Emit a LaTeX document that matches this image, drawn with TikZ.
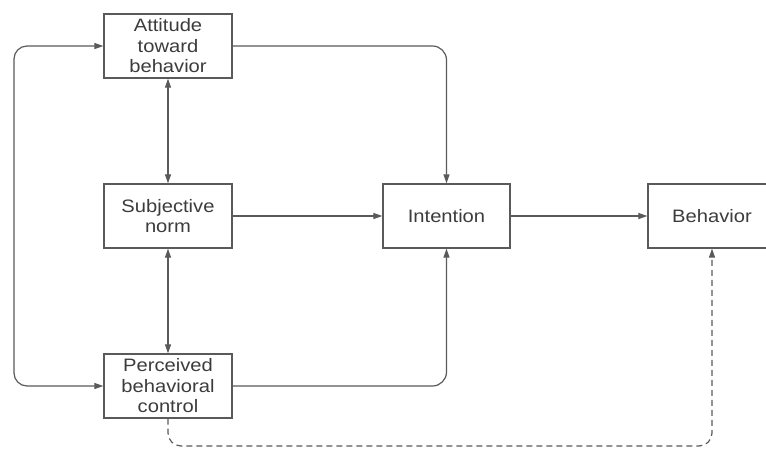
\documentclass[tikz,border=0pt]{standalone}
\usepackage{fontspec}
\setmainfont{Liberation Sans}[FakeStretch=1.12]
\usetikzlibrary{arrows.meta}
\definecolor{linegray}{HTML}{5A5A5A}
\definecolor{textgray}{HTML}{3C3C3C}
\begin{document}
\begin{tikzpicture}[x=1pt,y=-1pt,
  box/.style={draw=linegray, line width=1.3pt, fill=white, text=textgray,
    minimum width=128pt, minimum height=64pt, align=center, inner sep=0pt,
    font=\fontsize{18}{20.5}\selectfont},
  link/.style={draw=linegray, line width=1.2pt,
    -{Triangle[length=9pt,width=6pt]}},
  both/.style={link, {Triangle[length=9pt,width=6pt]}-{Triangle[length=9pt,width=6pt]}},
  dashedlink/.style={link, dash pattern=on 6pt off 4pt}]
\useasboundingbox (0,0) rectangle (766,448);
\clip (0,0) rectangle (766,448);
\fill[white] (0,0) rectangle (766,448);

% boxes
\node[box] (att)  at (168,46)    {Attitude\\toward\\behavior};
\node[box] (sub)  at (168,216)   {Subjective\\norm};
\node[box] (perc) at (168,386)   {Perceived\\behavioral\\control};
\node[box, minimum width=127pt] (int) at (446.5,216) {Intention};
\node[box] (beh)  at (712,216)   {Behavior};

% helper points for the routed connectors
\coordinate (lft) at (14,216);
\coordinate (bot) at (440,446);

% correlations between the antecedents
\draw[both] (att.south) -- (sub.north);
\draw[both] (sub.south) -- (perc.north);
\draw[both, rounded corners=13pt] (att.west) -| (lft) |- (perc.west);

% paths to intention and behavior
\draw[link] (sub.east) -- (int.west);
\draw[link, rounded corners=14pt] (att.east) -| (int.north);
\draw[link, rounded corners=14pt] (perc.east) -| (int.south);
\draw[link] (int.east) -- (beh.west);
\draw[dashedlink, rounded corners=13pt] (perc.south) |- (bot) -| (beh.south);
\end{tikzpicture}
\end{document}
